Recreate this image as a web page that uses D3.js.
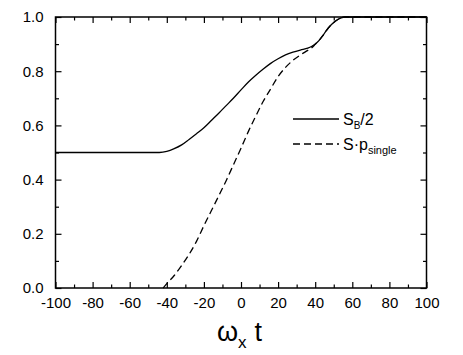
<!DOCTYPE html>
<meta charset="utf-8">
<style>
body { margin: 0; background: #fff; }
text, tspan { font-family: "Liberation Sans", Arial, sans-serif; fill: #000; }
.axis path { display: none; }
.axis line { stroke: #000; stroke-width: 1.2px; }
.line { fill: none; stroke: #000; stroke-width: 1.3px; }
</style>
<body>
<script src="https://d3js.org/d3.v7.min.js"></script>
<script>

var width = 463,
    height = 355,
    x0 = 55.5, x1 = 426.5, y0 = 17, y1 = 288;

// time values (omega_x t)
var tSolid = [-100, -50, -44, -40, -36, -32, -28, -24, -20, -16, -12, -8, -4, 0, 4, 8, 12, 16, 20, 24, 28, 32, 36, 38, 40, 42, 44, 46, 48, 50, 52, 54, 56, 58, 100];
var sB = [0.5, 0.5, 0.5, 0.504, 0.514, 0.528, 0.548, 0.569, 0.591, 0.618, 0.645, 0.673, 0.701, 0.731, 0.760, 0.785, 0.808, 0.829, 0.846, 0.860, 0.870, 0.878, 0.885, 0.891, 0.900, 0.913, 0.930, 0.950, 0.967, 0.980, 0.990, 0.997, 1.0, 1.0, 1.0];

var tDash = [-42, -40, -36, -32, -28, -24, -20, -16, -12, -8, -4, 0, 4, 8, 12, 16, 20, 24, 28, 32, 36, 38, 40, 42, 44, 46, 48, 50, 52, 54, 56, 58, 100];
var sP = [0.0, 0.016, 0.046, 0.083, 0.124, 0.172, 0.230, 0.285, 0.340, 0.396, 0.456, 0.516, 0.578, 0.635, 0.689, 0.735, 0.780, 0.814, 0.840, 0.860, 0.877, 0.886, 0.899, 0.913, 0.930, 0.950, 0.967, 0.980, 0.990, 0.997, 1.0, 1.0, 1.0];

var xTicks = [-100, -80, -60, -40, -20, 0, 20, 40, 60, 80, 100];
var yTicks = [0.0, 0.2, 0.4, 0.6, 0.8, 1.0];
var xMinor = [-90, -70, -50, -30, -10, 10, 30, 50, 70, 90];
var yMinor = [0.1, 0.3, 0.5, 0.7, 0.9];

var x = d3.scaleLinear().domain([-100, 100]).range([x0, x1]);
var y = d3.scaleLinear().domain([0, 1]).range([y1, y0]);

var svg = d3.select("body").append("svg")
    .attr("width", width)
    .attr("height", height);

// inward ticks on all four sides
function ticks(axis, tr) {
  svg.append("g").attr("class", "axis").attr("transform", tr).call(axis);
}
ticks(d3.axisBottom(x).tickValues(xTicks).tickSize(-6).tickPadding(9).tickFormat(function(d) { return String(d); }), "translate(0," + y1 + ")");
ticks(d3.axisBottom(x).tickValues(xMinor).tickSize(-3.5).tickFormat(""), "translate(0," + y1 + ")");
ticks(d3.axisTop(x).tickValues(xTicks).tickSize(-6).tickFormat(""), "translate(0," + y0 + ")");
ticks(d3.axisTop(x).tickValues(xMinor).tickSize(-3.5).tickFormat(""), "translate(0," + y0 + ")");
ticks(d3.axisLeft(y).tickValues(yTicks).tickSize(-6).tickPadding(12).tickFormat(function(d) { return d.toFixed(1); }), "translate(" + x0 + ",0)");
ticks(d3.axisLeft(y).tickValues(yMinor).tickSize(-3.5).tickFormat(""), "translate(" + x0 + ",0)");
ticks(d3.axisRight(y).tickValues(yTicks).tickSize(-6).tickFormat(""), "translate(" + x1 + ",0)");
ticks(d3.axisRight(y).tickValues(yMinor).tickSize(-3.5).tickFormat(""), "translate(" + x1 + ",0)");

svg.selectAll(".axis text").style("font-size", "15px");

svg.append("rect")
    .attr("x", x0).attr("y", y0)
    .attr("width", x1 - x0).attr("height", y1 - y0)
    .attr("fill", "none").attr("stroke", "#000").attr("stroke-width", 1.5);

var line = d3.line()
    .x(function(d) { return x(d[0]); })
    .y(function(d) { return y(d[1]); })
    .curve(d3.curveMonotoneX);

svg.append("path")
    .datum(d3.zip(tSolid, sB))
    .attr("class", "line")
    .attr("d", line);

svg.append("path")
    .datum(d3.zip(tDash, sP))
    .attr("class", "line")
    .attr("stroke-dasharray", "7,4")
    .attr("d", line);

// legend
svg.append("line").attr("class", "line")
    .attr("x1", 293).attr("x2", 339).attr("y1", 119).attr("y2", 119);
svg.append("line").attr("class", "line")
    .attr("x1", 293).attr("x2", 339).attr("y1", 144).attr("y2", 144)
    .attr("stroke-dasharray", "7,4");

var l1 = svg.append("text").attr("x", 343).attr("y", 125).style("font-size", "16px");
l1.append("tspan").text("S");
l1.append("tspan").attr("dy", 4).style("font-size", "10px").text("B");
l1.append("tspan").attr("dy", -4).text("/2");

var l2 = svg.append("text").attr("x", 343).attr("y", 150).style("font-size", "16px");
l2.append("tspan").text("S·p");
l2.append("tspan").attr("dy", 4).style("font-size", "11px").text("single");

// x axis title
var xt = svg.append("text").attr("x", 217).attr("y", 341).style("font-size", "27px");
xt.append("tspan").text("ω");
xt.append("tspan").attr("dy", 7).style("font-size", "17px").text("x");
xt.append("tspan").attr("dy", -7).attr("dx", 8).text("t");

</script>
